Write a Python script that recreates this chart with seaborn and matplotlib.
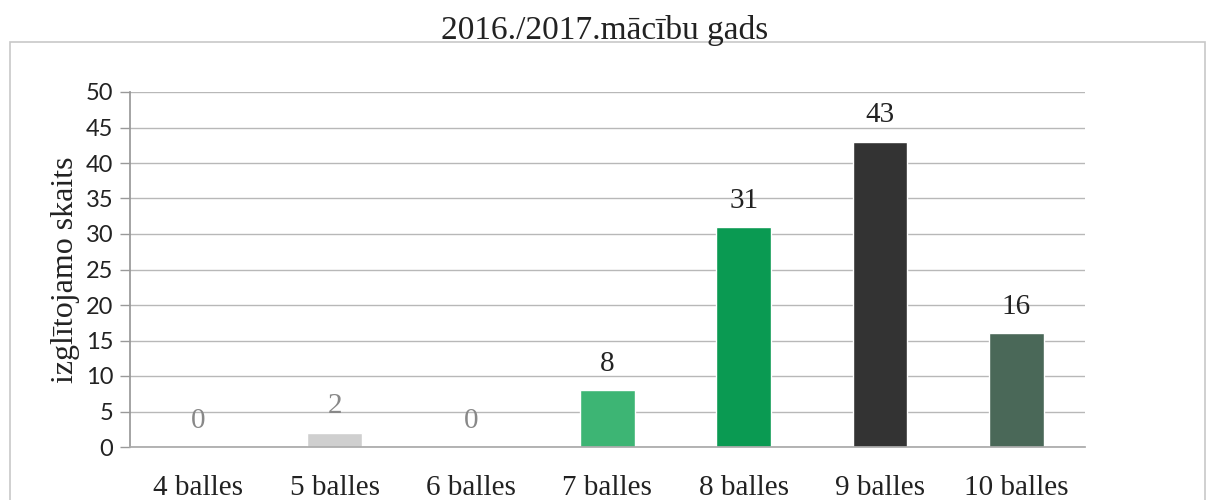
import matplotlib
matplotlib.use("Agg")
import matplotlib.pyplot as plt
import seaborn as sns
import pandas as pd
from matplotlib.patches import Rectangle

categories = ["4 balles", "5 balles", "6 balles", "7 balles", "8 balles", "9 balles", "10 balles"]
values = [0, 2, 0, 8, 31, 43, 16]
bar_colors = ["#d9d9d9", "#cfcfcf", "#d9d9d9", "#3db574", "#0a9a52", "#333333", "#4a6858"]
title = "2016./2017.mācību gads"
ylabel = "izglītojamo skaits"
yticks = [0, 5, 10, 15, 20, 25, 30, 35, 40, 45, 50]

sns.set_theme(style="white")
plt.rcParams["font.family"] = ["Liberation Serif", "DejaVu Serif"]

df = pd.DataFrame({"cat": categories, "val": values})

fig = plt.figure(figsize=(12.1, 5), dpi=100)
ax = fig.add_axes([0.1074, 0.106, 0.789, 0.71])

sns.barplot(data=df, x="cat", y="val", hue="cat", palette=dict(zip(categories, bar_colors)),
            width=0.4, legend=False, ax=ax, saturation=1)

ax.set_ylim(0, 50)
ax.set_xlim(-0.5, 6.5)
ax.set_yticks(yticks)
ax.set_yticklabels([str(t) for t in yticks], fontsize=17, color="#222222",
                   family=["Lato", "DejaVu Sans"])
ax.tick_params(axis="x", labelsize=21, labelcolor="#222222", length=0, pad=20)
ax.tick_params(axis="y", length=7, width=1, color="#999999", left=True, pad=5)
ax.set_xlabel("")
ax.set_ylabel(ylabel, fontsize=23, color="#222222", labelpad=4)
ax.yaxis.grid(True, color="#b8b8b8", linewidth=1)
ax.set_axisbelow(True)
for s in ["top", "right"]:
    ax.spines[s].set_visible(False)
ax.spines["left"].set_color("#999999")
ax.spines["bottom"].set_color("#aaaaaa")

for i, v in enumerate(values):
    ax.annotate(str(v), (i, v), xytext=(0, 19), textcoords="offset points",
                ha="center", va="center", fontsize=21,
                color="#888888" if v < 5 else "#222222")

fig.text(0.5, 0.94, title, ha="center", va="center", fontsize=24, color="#222222")
fig.patches.append(Rectangle((10 / 1210, -0.02), 1195 / 1210, (500 - 42) / 500 + 0.02,
                             transform=fig.transFigure, fill=False,
                             edgecolor="#c8c8c8", linewidth=1.2))

fig.savefig("out.png", dpi=100)
